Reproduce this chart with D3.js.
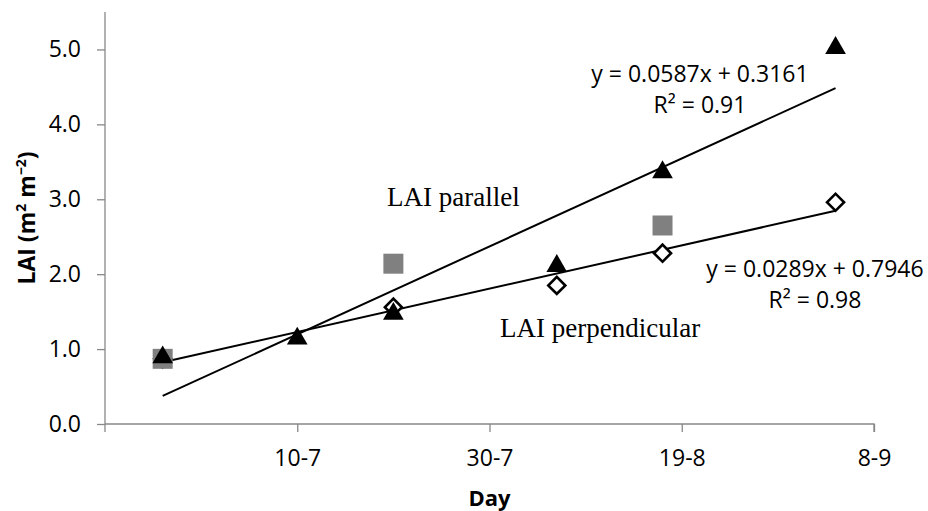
<!DOCTYPE html>
<html>
<head>
<meta charset="utf-8">
<script src="https://cdn.jsdelivr.net/npm/d3@7"></script>
<style>
  body { margin: 0; background: #fff; }
</style>
</head>
<body>
<div id="chart"></div>
<script>
// Sampling dates (day-month, 2012)
var sampleDates = ["26-6", "10-7", "20-7", "6-8", "17-8", "4-9"];
var laiParallel = [0.89, 1.14, 1.47, 2.11, 3.36, 5.02];            // black triangles
var laiPerpendicular = [0.87, null, 1.56, 1.85, 2.28, 2.96];       // open diamonds
var laiOtherDates = ["26-6", "20-7", "17-8"];
var laiOther = [0.87, 2.14, 2.65];                                 // grey squares
var xTicks = ["10-7", "30-7", "19-8", "8-9"];
var yTicks = [0, 1, 2, 3, 4, 5];

// Trendlines as printed on the chart (x = days since first sample + 1)
var trendSlope = [0.0587, 0.0289];
var trendIntercept = [0.3161, 0.7946];
var trendEq = ["y = 0.0587x + 0.3161", "y = 0.0289x + 0.7946"];
var trendR2 = ["R² = 0.91", "R² = 0.98"];

var parseDay = function(s) {
    var p = s.split("-");
    return new Date(2012, +p[1] - 1, +p[0]);
};

var width = 928, height = 511;
var margin = {top: 12, right: 54, bottom: 87, left: 105};
var fontSans = "'Open Sans', sans-serif", fontSerif = "'Liberation Serif', serif";

var svg = d3.select("#chart")
  .append("svg")
    .attr("width", width)
    .attr("height", height)
    .style("font-family", fontSans);

var x = d3.scaleTime()
    .domain([new Date(2012, 5, 20), new Date(2012, 8, 8)])
    .range([margin.left, width - margin.right]);

var y = d3.scaleLinear()
    .domain([0, 5.5])
    .range([height - margin.bottom, margin.top]);

var axisColor = "#888";

// X axis
var xAxis = d3.axisBottom(x)
    .tickValues(xTicks.map(parseDay))
    .tickSize(8)
    .tickFormat(d3.timeFormat("%-d-%-m"));

var gx = svg.append("g")
    .attr("transform", `translate(0,${y(0)})`)
    .call(xAxis);
gx.select(".domain").attr("stroke", axisColor).attr("stroke-width", 1.3)
    .attr("d", `M${x.range()[0]},0H${x.range()[1]}V8`);
gx.selectAll(".tick line").attr("stroke", axisColor).attr("stroke-width", 1.3);
gx.selectAll(".tick text")
    .attr("fill", "#000")
    .style("font-size", "23px")
    .style("font-family", fontSans)
    .attr("dy", null)
    .attr("y", 42);

// Y axis
var yAxis = d3.axisLeft(y)
    .tickValues(yTicks)
    .tickSize(8)
    .tickFormat(d3.format(".1f"));

var gy = svg.append("g")
    .attr("transform", `translate(${margin.left},0)`)
    .call(yAxis);
gy.select(".domain").attr("stroke", axisColor).attr("stroke-width", 1.3)
    .attr("d", `M0,${y(5.5)}V${y(0) + 8}`);
gy.selectAll(".tick line").attr("stroke", axisColor).attr("stroke-width", 1.3);
gy.selectAll(".tick text")
    .attr("fill", "#000")
    .style("font-size", "23px")
    .style("font-family", fontSans)
    .attr("x", -24);

// Axis titles
svg.append("text")
    .attr("x", x(parseDay("30-7")))
    .attr("y", 506)
    .attr("text-anchor", "middle")
    .style("font-size", "22px")
    .style("font-weight", "bold")
    .text("Day");

var yTitle = svg.append("text")
    .attr("transform", `translate(35,${(y(0) + y(5.5)) / 2}) rotate(-90)`)
    .attr("text-anchor", "middle")
    .style("font-size", "23px")
    .style("font-weight", "bold");
yTitle.append("tspan").text("LAI (m");
yTitle.append("tspan").style("font-size", "14px").attr("dy", -9).text("2");
yTitle.append("tspan").attr("dy", 9).text(" m");
yTitle.append("tspan").style("font-size", "14px").attr("dy", -9).text("\u22122");
yTitle.append("tspan").attr("dy", 9).text(")");

// Trendlines
var first = parseDay(sampleDates[0]);
var last = parseDay(sampleDates[sampleDates.length - 1]);
var dayIndex = function(d) { return d3.timeDay.count(first, d) + 1; };

trendSlope.forEach(function(b, i) {
    var a = trendIntercept[i];
    svg.append("line")
        .attr("x1", x(first))
        .attr("y1", y(a + b * dayIndex(first)))
        .attr("x2", x(last))
        .attr("y2", y(a + b * dayIndex(last)))
        .attr("stroke", "#000")
        .attr("stroke-width", 2);
});

// Markers
var diamond = d3.symbol().type(d3.symbolSquare).size(145);
var square = d3.symbol().type(d3.symbolSquare).size(400);
var triangle = d3.symbol().type(d3.symbolTriangle).size(185);

svg.append("g").selectAll("path")
    .data(sampleDates.map(function(d, i) { return {date: parseDay(d), v: laiPerpendicular[i]}; })
        .filter(function(d) { return d.v != null; }))
  .enter().append("path")
    .attr("d", diamond)
    .attr("transform", function(d) { return `translate(${x(d.date)},${y(d.v)}) rotate(45)`; })
    .attr("fill", "#fff")
    .attr("stroke", "#000")
    .attr("stroke-width", 2.6);

svg.append("g").selectAll("path")
    .data(laiOtherDates.map(function(d, i) { return {date: parseDay(d), v: laiOther[i]}; }))
  .enter().append("path")
    .attr("d", square)
    .attr("transform", function(d) { return `translate(${x(d.date)},${y(d.v)})`; })
    .attr("fill", "#808080");

svg.append("g").selectAll("path")
    .data(sampleDates.map(function(d, i) { return {date: parseDay(d), v: laiParallel[i]}; }))
  .enter().append("path")
    .attr("d", triangle)
    .attr("transform", function(d) { return `translate(${x(d.date)},${y(d.v)})`; })
    .attr("fill", "#000");

// Annotations
var eqPos = [{x: 700, y: 82}, {x: 815, y: 277}];
trendEq.forEach(function(t, i) {
    var g = svg.append("text")
        .attr("text-anchor", "middle")
        .style("font-size", "23px")
        .attr("fill", "#000");
    g.append("tspan").attr("x", eqPos[i].x).attr("y", eqPos[i].y).text(t);
    g.append("tspan").attr("x", eqPos[i].x).attr("y", eqPos[i].y + 31).text(trendR2[i]);
});

svg.append("text")
    .attr("x", 387)
    .attr("y", 206)
    .style("font-family", fontSerif)
    .style("font-size", "27px")
    .text("LAI parallel");

svg.append("text")
    .attr("x", 500)
    .attr("y", 337)
    .style("font-family", fontSerif)
    .style("font-size", "27px")
    .text("LAI perpendicular");
</script>
</body>
</html>
